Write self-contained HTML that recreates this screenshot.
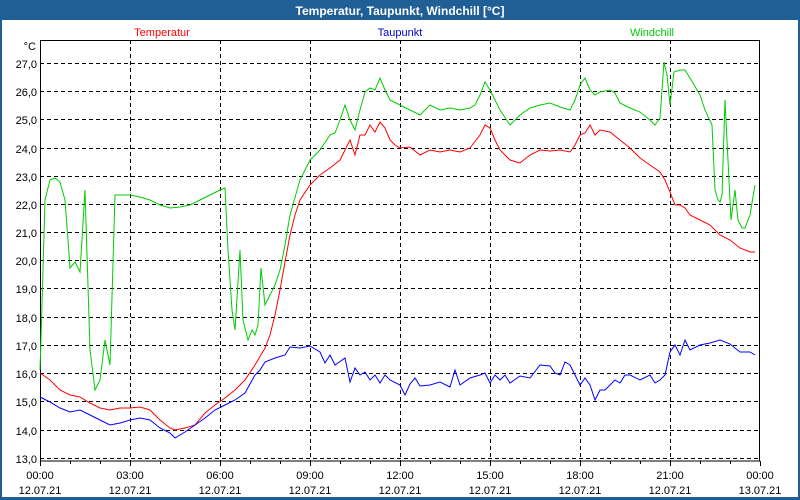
<!DOCTYPE html>
<html><head><meta charset="utf-8"><style>
html,body{margin:0;padding:0;width:800px;height:500px;overflow:hidden;background:#fff}
svg{display:block;font-family:"Liberation Sans","DejaVu Sans",sans-serif}
</style></head><body>
<svg width="800" height="500" viewBox="0 0 800 500">
<rect x="0" y="0" width="800" height="500" fill="#1f5f96"/>
<rect x="2" y="20" width="796" height="477" fill="#fff"/>
<text x="400" y="15" fill="#fff" font-size="12" font-weight="bold" text-anchor="middle">Temperatur, Taupunkt, Windchill [°C]</text>
<text x="162" y="36" fill="#ff0000" font-size="11" text-anchor="middle">Temperatur</text>
<text x="400" y="36" fill="#0000cc" font-size="11" text-anchor="middle">Taupunkt</text>
<text x="652" y="36" fill="#00cc00" font-size="11" text-anchor="middle">Windchill</text>
<text x="36" y="50" fill="#000" font-size="11" text-anchor="end">°C</text>
<g stroke="#000" stroke-width="1" stroke-dasharray="4,3" fill="none">
<path d="M40 63.5H760M40 91.5H760M40 119.5H760M40 148.5H760M40 176.5H760M40 204.5H760M40 232.5H760M40 260.5H760M40 288.5H760M40 317.5H760M40 345.5H760M40 373.5H760M40 401.5H760M40 430.5H760M40 458.5H760"/>
<path d="M130.5 40V461M220.5 40V461M310.5 40V461M400.5 40V461M490.5 40V461M580.5 40V461M670.5 40V461"/>
</g>
<rect x="40.5" y="40.5" width="719" height="420.5" fill="none" stroke="#000"/>
<g stroke="#000"><path d="M40.5 461V466M70.5 461V464M100.5 461V464M130.5 461V466M160.5 461V464M190.5 461V464M220.5 461V466M250.5 461V464M280.5 461V464M310.5 461V466M340.5 461V464M370.5 461V464M400.5 461V466M430.5 461V464M460.5 461V464M490.5 461V466M520.5 461V464M550.5 461V464M580.5 461V466M610.5 461V464M640.5 461V464M670.5 461V466M700.5 461V464M730.5 461V464M760.5 461V466"/></g>
<g font-size="11" fill="#000" text-anchor="end">
<text x="37" y="68">27,0</text><text x="37" y="96">26,0</text><text x="37" y="124">25,0</text><text x="37" y="153">24,0</text><text x="37" y="181">23,0</text><text x="37" y="209">22,0</text><text x="37" y="237">21,0</text><text x="37" y="265">20,0</text><text x="37" y="293">19,0</text><text x="37" y="322">18,0</text><text x="37" y="350">17,0</text><text x="37" y="378">16,0</text><text x="37" y="406">15,0</text><text x="37" y="435">14,0</text><text x="37" y="463">13,0</text>
</g>
<g font-size="11" fill="#000" text-anchor="middle">
<text x="40" y="479">00:00</text><text x="40" y="494">12.07.21</text>
<text x="130" y="479">03:00</text><text x="130" y="494">12.07.21</text>
<text x="220" y="479">06:00</text><text x="220" y="494">12.07.21</text>
<text x="310" y="479">09:00</text><text x="310" y="494">12.07.21</text>
<text x="400" y="479">12:00</text><text x="400" y="494">12.07.21</text>
<text x="490" y="479">15:00</text><text x="490" y="494">12.07.21</text>
<text x="580" y="479">18:00</text><text x="580" y="494">12.07.21</text>
<text x="670" y="479">21:00</text><text x="670" y="494">12.07.21</text>
<text x="760" y="479">00:00</text><text x="760" y="494">13.07.21</text>
</g>
<g fill="none" stroke-width="1">
<polyline stroke="#00cc00" points="40,370 42,305 45,200 50,180 55,178 60,182 65,200 68,240 70,268 75,262 80,272 85,190 90,350 95,390 100,380 105,340 110,365 115,195 120,195 130,195 140,197 150,200 160,205 170,208 180,207 190,205 200,200 210,195 220,190 225,188 228,250 232,310 235,330 240,250 243,320 248,340 252,330 255,335 258,325 261,268 265,305 270,295 275,285 280,270 285,245 290,215 300,180 310,160 320,150 330,135 335,133 340,120 345,105 350,120 355,130 360,110 365,92 370,88 375,90 380,78 385,90 390,100 400,105 410,110 420,115 425,110 430,105 440,110 450,108 460,110 470,108 475,105 480,95 485,82 490,90 495,100 500,110 510,125 520,115 530,108 540,105 550,103 560,107 570,110 575,100 580,85 585,78 590,90 595,95 600,92 610,90 615,93 620,103 630,108 640,112 650,120 655,125 660,118 664,62 667,75 670,105 674,72 680,70 685,70 690,78 700,95 705,110 712,125 715,190 718,200 720,202 722,195 725,100 728,160 731,220 735,190 738,220 742,228 745,228 750,215 755,185"/>
<polyline stroke="#ff0000" points="40,373 50,380 60,390 70,395 80,397 90,403 100,408 110,410 120,408 130,408 140,407 150,410 160,420 170,428 175,430 185,428 195,425 205,413 215,405 225,398 235,390 245,380 255,365 265,348 270,335 275,315 280,290 285,262 290,235 295,215 300,200 310,185 320,175 330,168 340,160 345,150 350,140 355,155 360,135 365,135 370,125 375,132 380,122 385,128 390,140 395,145 400,148 410,147 420,155 430,150 440,152 450,150 460,152 470,148 480,135 485,125 490,128 495,140 500,150 510,160 520,163 530,155 540,150 550,151 560,150 570,152 575,145 580,135 585,133 590,125 595,135 600,130 610,132 620,140 630,148 640,158 650,165 660,172 665,180 670,192 675,205 680,205 685,208 690,215 700,220 710,225 720,235 730,240 740,248 750,252 755,252"/>
<polyline stroke="#0000ff" points="40,397 50,402 60,408 70,412 80,410 90,415 100,420 110,425 120,423 130,420 140,418 150,420 160,428 170,433 175,438 185,432 195,425 205,418 215,410 225,405 235,400 245,393 255,375 260,370 265,362 275,358 285,355 290,347 300,348 310,346 320,352 325,363 330,355 335,365 345,358 350,382 355,368 360,375 365,372 370,380 375,375 380,383 385,375 390,380 400,385 405,395 410,384 415,378 420,386 430,385 440,382 450,387 455,370 460,385 470,378 480,375 485,373 490,383 495,375 500,380 505,375 510,383 520,376 530,378 540,365 550,366 555,373 560,375 565,362 570,365 575,375 580,385 585,378 590,385 595,400 600,390 605,390 610,385 615,380 620,383 625,375 630,375 640,380 650,375 655,383 660,380 665,375 670,352 675,345 680,355 685,340 690,350 700,345 710,343 720,340 730,344 740,352 750,352 755,355"/>
</g>
</svg>
</body></html>
